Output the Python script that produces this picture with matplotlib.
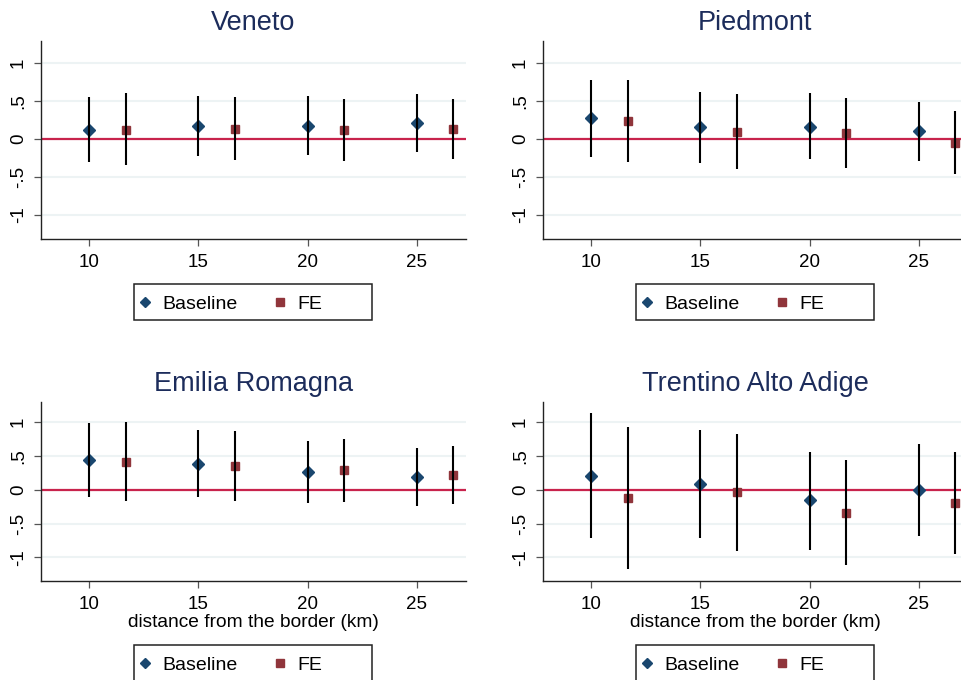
import matplotlib
matplotlib.use("Agg")
import matplotlib.pyplot as plt
from matplotlib.patches import Rectangle

plt.rcParams['font.family'] = ['Liberation Sans', 'DejaVu Sans']

# distance bands (km); FE estimates are drawn slightly to the right
dist = [10, 15, 20, 25]
fe_shift = 5 / 3

regions = ["Veneto", "Piedmont", "Emilia Romagna", "Trentino Alto Adige"]

# Baseline: point estimate, lower and upper CI
veneto_base = [0.118, 0.162, 0.171, 0.206]
veneto_base_lo = [-0.307, -0.228, -0.219, -0.180]
veneto_base_hi = [0.544, 0.557, 0.557, 0.588]
veneto_fe = [0.118, 0.130, 0.118, 0.130]
veneto_fe_lo = [-0.350, -0.280, -0.290, -0.270]
veneto_fe_hi = [0.600, 0.553, 0.520, 0.526]

piedmont_base = [0.268, 0.149, 0.158, 0.096]
piedmont_base_lo = [-0.237, -0.316, -0.272, -0.294]
piedmont_base_hi = [0.772, 0.618, 0.596, 0.487]
piedmont_fe = [0.237, 0.092, 0.079, -0.053]
piedmont_fe_lo = [-0.303, -0.400, -0.380, -0.470]
piedmont_fe_hi = [0.772, 0.583, 0.530, 0.360]

emilia_base = [0.436, 0.381, 0.257, 0.188]
emilia_base_lo = [-0.114, -0.114, -0.193, -0.238]
emilia_base_hi = [0.985, 0.881, 0.713, 0.614]
emilia_fe = [0.411, 0.351, 0.292, 0.218]
emilia_fe_lo = [-0.163, -0.163, -0.178, -0.218]
emilia_fe_hi = [1.000, 0.871, 0.752, 0.653]

trentino_base = [0.208, 0.084, -0.158, -0.005]
trentino_base_lo = [-0.713, -0.713, -0.886, -0.688]
trentino_base_hi = [1.134, 0.886, 0.564, 0.678]
trentino_fe = [-0.124, -0.030, -0.347, -0.193]
trentino_fe_lo = [-1.173, -0.901, -1.119, -0.946]
trentino_fe_hi = [0.926, 0.827, 0.436, 0.550]

yticks = [-1, -0.5, 0, 0.5, 1]
ytick_labels = ["-1", "-.5", "0", ".5", "1"]

panel_data = [
    (veneto_base, veneto_base_lo, veneto_base_hi, veneto_fe, veneto_fe_lo, veneto_fe_hi),
    (piedmont_base, piedmont_base_lo, piedmont_base_hi, piedmont_fe, piedmont_fe_lo, piedmont_fe_hi),
    (emilia_base, emilia_base_lo, emilia_base_hi, emilia_fe, emilia_fe_lo, emilia_fe_hi),
    (trentino_base, trentino_base_lo, trentino_base_hi, trentino_fe, trentino_fe_lo, trentino_fe_hi),
]

W, H = 962, 680
NAVY = '#1a476f'
MAROON = '#90353b'
TITLE = '#1c2c5b'
ZERO = '#c8234c'
GRID = '#edf3f4'

fig = plt.figure(figsize=(W / 100, H / 100), dpi=100)
fig.patch.set_facecolor('white')


def px_axes(left, top, width, height):
    return fig.add_axes([left / W, 1 - (top + height) / H, width / W, height / H])


# left px, top px, height px, ylim, legend center y px
layout = [
    (40.7, 41, 198, (-1.32, 1.285), 302),
    (542.7, 41, 198, (-1.32, 1.285), 302),
    (40.7, 401.7, 179, (-1.344, 1.30), 663),
    (542.7, 401.7, 179, (-1.344, 1.30), 663),
]

for i, (name, data, lay) in enumerate(zip(regions, panel_data, layout)):
    base, base_lo, base_hi, fe, fe_lo, fe_hi = data
    left, top, height, ylim, leg_y = lay
    ax = px_axes(left, top, 425.3, height)
    fe_x = [d + fe_shift for d in dist]

    for y in yticks:
        ax.axhline(y, color=GRID, lw=1.5, zorder=0)
    ax.axhline(0, color=ZERO, lw=1.6, zorder=1.5)

    hb, = ax.plot(dist, base, 'D', color=NAVY, ms=6.3, mec=NAVY, zorder=2, label="Baseline")
    hf, = ax.plot(fe_x, fe, 's', color=MAROON, ms=6.0, mec=MAROON, zorder=2, label="FE")
    ax.vlines(dist, base_lo, base_hi, color='black', lw=1.5, zorder=3)
    ax.vlines(fe_x, fe_lo, fe_hi, color='black', lw=1.5, zorder=3)

    ax.set_xlim(7.77, 27.26)
    ax.set_ylim(*ylim)
    ax.set_xticks(dist)
    ax.set_yticks(yticks)
    ax.set_yticklabels(ytick_labels, rotation=90, va='center')
    ax.tick_params(axis='both', labelsize=13.5, length=5, width=0.9, color='#555555')
    ax.tick_params(axis='x', pad=6)
    ax.tick_params(axis='y', pad=5)
    for s in ['top', 'right']:
        ax.spines[s].set_visible(False)
    for s in ['left', 'bottom']:
        ax.spines[s].set_linewidth(1.0)
        ax.spines[s].set_color('#222222')
    ax.set_title(name, fontsize=19.5, color=TITLE, pad=8)
    if i >= 2:
        ax.set_xlabel("distance from the border (km)", fontsize=13.8, labelpad=1)

    # legend box
    box_left = left + 93.3
    fig.add_artist(Rectangle((box_left / W, 1 - (leg_y + 18) / H), 238 / W, 36 / H,
                             transform=fig.transFigure, fill=False, ec='#222222', lw=1.1))
    ax.legend(handles=[hb, hf], loc='center left', ncol=2, frameon=False,
              bbox_to_anchor=(box_left / W, 1 - (leg_y + 2) / H), bbox_transform=fig.transFigure,
              fontsize=14, borderaxespad=0, borderpad=0.35, handlelength=0.4,
              handletextpad=0.72, columnspacing=1.95, markerscale=0.85)

fig.savefig("out.png", dpi=100)
